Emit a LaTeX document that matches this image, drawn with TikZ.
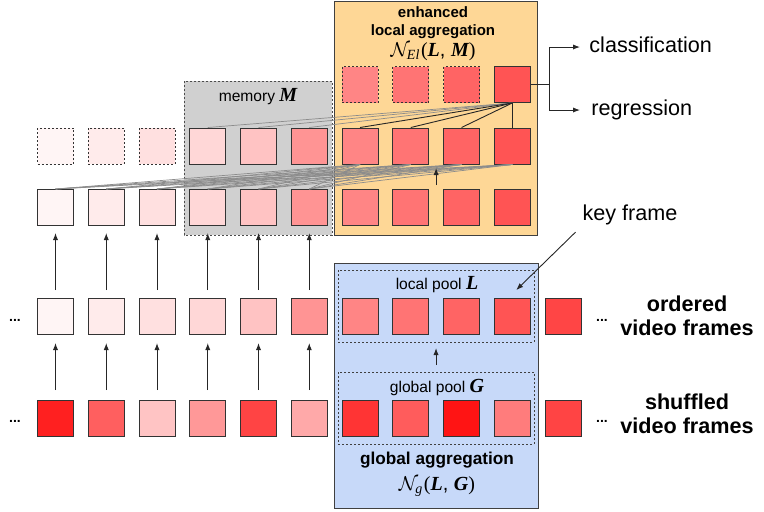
\documentclass[tikz,border=0pt]{standalone}
\usepackage{fontspec}
\setmainfont{Liberation Sans}
\newfontfamily\timesfam{Liberation Serif}
\usepackage{amsmath, amssymb}
\usetikzlibrary{arrows.meta, calc}
\newcommand{\pv}[1]{{\timesfam\bfseries\itshape #1}}
\newcommand{\aggr}[2]{$\mathcal{N}_{\text{\timesfam\itshape #1}}$\kern0.3pt{\timesfam(}#2{\timesfam)}}
\definecolor{o0}{HTML}{FFF5F5}
\definecolor{o1}{HTML}{FFEBEB}
\definecolor{o2}{HTML}{FFE0E0}
\definecolor{o3}{HTML}{FFD7D7}
\definecolor{o4}{HTML}{FFC3C3}
\definecolor{o5}{HTML}{FF9494}
\definecolor{o6}{HTML}{FF8585}
\definecolor{o7}{HTML}{FF7474}
\definecolor{o8}{HTML}{FF6464}
\definecolor{o9}{HTML}{FF5454}
\definecolor{o10}{HTML}{FF4545}
\definecolor{s0}{HTML}{FF2020}
\definecolor{s1}{HTML}{FF5F5F}
\definecolor{s2}{HTML}{FFC4C4}
\definecolor{s3}{HTML}{FF9898}
\definecolor{s4}{HTML}{FF4444}
\definecolor{s5}{HTML}{FFA9A9}
\definecolor{s6}{HTML}{FF3434}
\definecolor{s7}{HTML}{FF5C5C}
\definecolor{s8}{HTML}{FF1414}
\definecolor{s9}{HTML}{FF7C7C}
\definecolor{s10}{HTML}{FF4444}
\definecolor{memgray}{HTML}{D0D0D0}
\definecolor{elaorange}{HTML}{FED796}
\definecolor{glablue}{HTML}{C7D9F9}
\tikzset{
    vframe/.style={draw=black!80, line width=0.5pt, minimum size=18pt, inner sep=0pt},
    ghost/.style={vframe, dash pattern=on 1pt off 1pt},
    link/.style={black!45, line width=0.35pt},
    klink/.style={black!85, line width=0.45pt},
    up/.style={black!85, line width=0.5pt, -{Latex[length=3.5pt, width=2.6pt]}},
    poolbox/.style={draw=black!75, line width=0.4pt, dash pattern=on 1pt off 1pt},
    smalltext/.style={font=\fontsize{7.8}{9}\selectfont},
    bigtext/.style={font=\fontsize{10.8}{12}\selectfont},
    bigbold/.style={font=\fontsize{10.8}{12}\selectfont\bfseries, align=center},
    dots/.style={font=\fontsize{7}{7}\selectfont\bfseries, anchor=base},
}

\begin{document}
\begin{tikzpicture}[x=0.5pt, y=-0.5pt]
\useasboundingbox (0,0) rectangle (764,511);
\draw[draw=black!70, line width=0.4pt, dash pattern=on 1pt off 1pt, fill=memgray] (184,81) rectangle (332,235);
\draw[draw=black!75, line width=0.5pt, fill=elaorange] (334,1) rectangle (537,235);
\draw[draw=black!75, line width=0.5pt, fill=glablue] (334,263) rectangle (538,508);
\draw[poolbox] (338,270) rectangle (534,342);
\draw[poolbox] (338,372) rectangle (534,444);

\node[smalltext] (memlbl) at (258,97) {memory {\fontsize{10}{12}\selectfont\pv{M}}};
\node[font=\fontsize{7.5}{9}\selectfont\bfseries, align=center] (elatitle) at (433,23) {enhanced\\local aggregation};
\node[font=\fontsize{10}{12}\selectfont] (elamath) at (433,52) {\aggr{El}{\pv{L}, \pv{M}}};
\node[smalltext] (lpoollbl) at (437,285) {local pool {\fontsize{10}{12}\selectfont\pv{L}}};
\node[smalltext] (gpoollbl) at (437,387) {global pool {\fontsize{10}{12}\selectfont\pv{G}}};
\node[font=\fontsize{8.6}{10}\selectfont\bfseries] (glatitle) at (437,460) {global aggregation};
\node[font=\fontsize{10}{12}\selectfont] (glamath) at (437,487) {\aggr{g}{\pv{L}, \pv{G}}};
\node[bigtext] (kf) at (630,215) {key frame};
\node[bigtext, anchor=base west, inner sep=0pt] (cls) at (589,52) {classification};
\node[bigtext, anchor=base west, inner sep=0pt] (reg) at (591,115) {regression};
\node[bigbold] (ordlbl) at (687,316) {ordered\\video frames};
\node[bigbold] (shflbl) at (687,414) {shuffled\\video frames};
\node[dots] (dl1) at (15,321) {...};
\node[dots] (dr1) at (602,321) {...};
\node[dots] (dl2) at (15,422) {...};
\node[dots] (dr2) at (602,422) {...};

\foreach \i in {0,...,10} {
    \node[vframe, fill=o\i] (d\i) at ({55.5+50.75*\i}, 316.5) {};
    \node[vframe, fill=s\i] (e\i) at ({55.5+50.75*\i}, 418.5) {};
}
\foreach \i in {0,...,9}
    \node[vframe, fill=o\i] (c\i) at ({55.5+50.75*\i}, 207.5) {};
\foreach \i in {0,1,2}
    \node[ghost, fill=o\i] (b\i) at ({55.5+50.75*\i}, 146) {};
\foreach \i in {3,...,9}
    \node[vframe, fill=o\i] (b\i) at ({55.5+50.75*\i}, 146) {};
\foreach \i in {6,7,8}
    \node[ghost, fill=o\i] (a\i) at ({55.5+50.75*\i}, 84.5) {};
\node[vframe, fill=o9] (a9) at ({55.5+50.75*9}, 84.5) {};

\foreach \i in {0,...,5} {
    \draw[up] ([yshift=5pt]e\i.north) -- ([yshift=-4pt]d\i.south);
    \draw[up] ([yshift=4pt]d\i.north) -- ([yshift=-3.5pt]c\i.south);
    \foreach \k in {6,...,9}
        \draw[link] (c\i.north) -- (b\k.south);
}
\foreach \k in {3,4,5}
    \draw[link] (a9.south) -- (b\k.north);
\foreach \k in {6,...,9}
    \draw[klink] (a9.south) -- (b\k.north);

\coordinate (lp) at (436,342);
\coordinate (gp) at (436,372);
\draw[up] ([yshift=3.5pt]gp) -- ([yshift=-3pt]lp);
\coordinate (mid) at ($(c7.north)!0.5!(c8.north)$);
\draw[up] ([yshift=2pt]mid) -- ([yshift=10.5pt]mid);

\coordinate (split) at ([xshift=9.5pt]a9.east);
\draw[klink] (a9.east) -- (split);
\draw[up] (split) |- ([shift={(-4.5pt,2.5pt)}]cls.base west);
\draw[up] (split) |- ([shift={(-5.5pt,2.5pt)}]reg.base west);
\draw[klink, -{Latex[length=3.5pt, width=2.6pt]}] (kf.south west) -- ([shift={(2pt,4pt)}]d9.north);
\end{tikzpicture}
\end{document}
